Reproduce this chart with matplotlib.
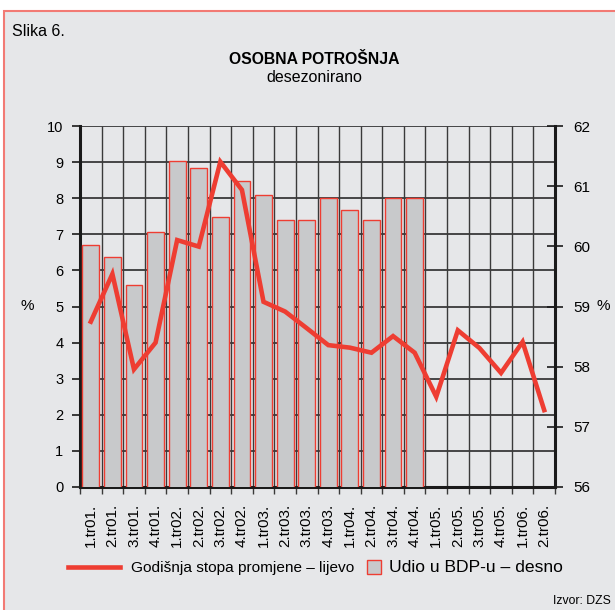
import matplotlib
matplotlib.use("Agg")
import matplotlib.pyplot as plt
from matplotlib.patches import Rectangle
from matplotlib.lines import Line2D
from matplotlib.transforms import blended_transform_factory

plt.rcParams['font.family'] = ['Liberation Sans', 'DejaVu Sans']

# data
quarters = ['1.tr01.', '2.tr01.', '3.tr01.', '4.tr01.',
            '1.tr02.', '2.tr02.', '3.tr02.', '4.tr02.',
            '1.tr03.', '2.tr03.', '3.tr03.', '4.tr03.',
            '1.tr04.', '2.tr04.', '3.tr04.', '4.tr04.',
            '1.tr05.', '2.tr05.', '3.tr05.', '4.tr05.',
            '1.tr06.', '2.tr06.']
growth = [4.58, 5.9, 3.26, 4.0, 6.84, 6.66, 9.01, 8.23, 5.13, 4.86, 4.4, 3.93,
          3.86, 3.72, 4.18, 3.72, 2.5, 4.34, 3.85, 3.16, 4.02, 2.13]
share_gdp = [60.03, 59.83, 59.35, 60.23, 61.42, 61.30, 60.48, 61.09, 60.85, 60.44,
             60.44, 60.81, 60.61, 60.44, 60.81, 60.81]
left_ticks = list(range(0, 11))
right_ticks = list(range(56, 63))

RED = '#ee3d32'
BG = '#e6e7e9'
W, H = 615, 610


def fx(x):
    return x / W


def fy(y):
    return 1 - y / H


fig = plt.figure(figsize=(W / 100, H / 100), dpi=100, facecolor='white')
fig.patches.append(Rectangle((fx(4), fy(H + 5)), 1.0, fy(11) - fy(H + 5),
                             transform=fig.transFigure, facecolor=BG,
                             edgecolor='#f27a74', linewidth=1.5, zorder=-10))

ax2 = fig.add_axes([fx(80), fy(487), fx(555) - fx(80), fy(126) - fy(487)])
ax = ax2.twinx()
ax2.set_facecolor('none')
ax.set_facecolor('none')
ax.set_zorder(ax2.get_zorder() + 1)

x = list(range(len(quarters)))

# bars (right scale)
ax2.bar(x[:len(share_gdp)], share_gdp, width=0.78, color='#c8c9cb',
        edgecolor=RED, linewidth=1.0, zorder=3)
ax2.set_ylim(56, 62)
ax2.set_xlim(-0.5, len(quarters) - 0.5)

# grid drawn behind bars, horizontal lines follow left scale
bt = blended_transform_factory(ax2.transAxes, ax.transData)
ax2.hlines(left_ticks, 0, 1, transform=bt, color='#1a1a1a', linewidth=1.1, zorder=1)
ax2.vlines([i - 0.5 for i in range(len(quarters) + 1)], 56, 62,
           color='#3a3a3a', linewidth=1.0, zorder=1)

# line (left scale)
ax.plot(x, growth, color=RED, linewidth=3.3, solid_joinstyle='miter', zorder=5)
ax.set_ylim(0, 10)

# axis sides: line scale on left, bars scale on right
ax.yaxis.tick_left()
ax2.yaxis.tick_right()
ax.set_yticks(left_ticks)
ax.tick_params(axis='y', direction='out', length=6, width=1.2, color='#1a1a1a',
               labelsize=10.5, pad=6)
ax2.set_yticks(right_ticks)
ax2.tick_params(axis='y', direction='inout', length=11, width=1.2, color='#1a1a1a',
                labelsize=11, pad=8, left=False, labelleft=False, right=True,
                labelright=True)
ax.tick_params(axis='x', bottom=False, labelbottom=False)

ax2.set_xticks(x)
ax2.set_xticklabels(quarters, rotation=90, fontsize=11)
ax2.set_xticks([i - 0.5 for i in range(len(quarters) + 1)], minor=True)
ax2.tick_params(axis='x', which='major', length=0, pad=12)
ax2.tick_params(axis='x', which='minor', length=5, width=1.0, color='#3a3a3a')

for a in (ax, ax2):
    for s in a.spines.values():
        s.set_visible(False)
for side in ('left', 'right', 'bottom'):
    ax2.spines[side].set_visible(True)
    ax2.spines[side].set_linewidth(2.2)
    ax2.spines[side].set_color('#1a1a1a')

ax.text(-0.112, 0.5, '%', transform=ax.transAxes, fontsize=11, ha='center', va='center')
ax.text(1.101, 0.5, '%', transform=ax.transAxes, fontsize=11, ha='center', va='center')

# texts
fig.text(fx(12), fy(32), 'Slika 6.', fontsize=11.5, ha='left', va='center')
fig.text(fx(314), fy(60), 'OSOBNA POTROŠNJA', fontsize=11.3, fontweight='bold',
         ha='center', va='center')
fig.text(fx(314), fy(78), 'desezonirano', fontsize=11.5, ha='center', va='center')
fig.text(fx(611), fy(601), 'Izvor: DZS', fontsize=8.8, ha='right', va='center')

# legend
fig.add_artist(Line2D([fx(68), fx(120)], [fy(567), fy(567)], color=RED,
                      linewidth=3.3, transform=fig.transFigure))
fig.text(fx(131), fy(568), 'Godišnja stopa promjene – lijevo', fontsize=11.1,
         ha='left', va='center')
fig.patches.append(Rectangle((fx(367), fy(574)), fx(14), fy(0) - fy(14),
                             transform=fig.transFigure, facecolor='#c8c9cb',
                             edgecolor=RED, linewidth=1.0))
fig.text(fx(389), fy(568), 'Udio u BDP-u – desno', fontsize=12.6,
         ha='left', va='center')

fig.savefig('out.png', dpi=100, facecolor='white')
